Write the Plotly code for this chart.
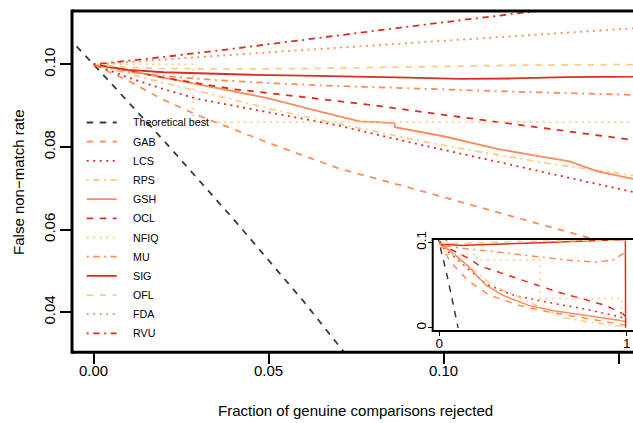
import plotly.graph_objects as go

# ---------------- data ----------------
names = ["Theoretical best", "GAB", "LCS", "RPS", "GSH", "OCL", "NFIQ", "MU", "SIG", "OFL", "FDA", "RVU"]

theo_x = [-0.01, 0.0, 0.02, 0.04, 0.06, 0.08, 0.10]
theo_y = [0.1089, 0.1, 0.0816, 0.0625, 0.0426, 0.0217, 0.0]

gab_x = [0, 0.01, 0.02, 0.03, 0.05, 0.07, 0.09, 0.11, 0.13, 0.155, 0.27, 0.43, 0.6, 0.8, 0.97, 1.0]
gab_y = [0.1, 0.0960, 0.0914, 0.0876, 0.0810, 0.0748, 0.0702, 0.0655, 0.0607, 0.0548, 0.038, 0.026, 0.018, 0.010, 0.004, 0.003]

lcs_x = [0, 0.01, 0.02, 0.03, 0.05, 0.07, 0.09, 0.11, 0.13, 0.155, 0.25, 0.4, 0.6, 0.8, 0.96, 1.0]
lcs_y = [0.1, 0.0968, 0.0940, 0.0916, 0.0884, 0.0852, 0.0812, 0.0773, 0.0735, 0.0685, 0.051, 0.038, 0.029, 0.021, 0.013, 0.010]

rps_x = [0, 0.01, 0.02, 0.035, 0.05, 0.065, 0.08, 0.095, 0.11, 0.13, 0.155, 0.25, 0.31, 0.41, 0.5, 0.66, 0.82, 0.98, 1.0]
rps_y = [0.1, 0.0978, 0.0955, 0.0925, 0.0893, 0.0865, 0.0838, 0.0812, 0.0789, 0.0760, 0.0730, 0.056, 0.047, 0.0376, 0.028, 0.012, 0.006, 0.002, 0.001]

gsh_x = [0, 0.01, 0.02, 0.035, 0.05, 0.065, 0.076, 0.086, 0.0861, 0.10, 0.115, 0.125, 0.136, 0.144, 0.155,
         0.2, 0.25, 0.34, 0.48, 0.61, 0.79, 0.96, 1.0]
gsh_y = [0.1, 0.0985, 0.0968, 0.0943, 0.0918, 0.0885, 0.0862, 0.0858, 0.0848, 0.0826, 0.0796, 0.0781, 0.0765, 0.0741, 0.0721,
         0.061, 0.050, 0.038, 0.026, 0.020, 0.0146, 0.009, 0.007]

ocl_x = [0, 0.01, 0.02, 0.04, 0.06, 0.08, 0.10, 0.12, 0.14, 0.155, 0.22, 0.3, 0.38, 0.5, 0.64, 0.77, 0.89, 0.98, 1.0]
ocl_y = [0.1, 0.0985, 0.0968, 0.0940, 0.0921, 0.0901, 0.0878, 0.0855, 0.0832, 0.0816, 0.072, 0.0665, 0.0605, 0.051, 0.0414, 0.0337, 0.026, 0.0164, 0.012]

nfiq_x = [0, 0.0285, 0.2, 0.537, 0.974, 1.0]
nfiq_y = [0.1, 0.086, 0.0797, 0.0345, 0.004, 0.0]

mu_x = [0, 0.01, 0.02, 0.035, 0.05, 0.065, 0.08, 0.10, 0.12, 0.155, 0.3, 0.5, 0.7, 0.85, 0.93, 0.99, 1.0]
mu_y = [0.1, 0.0982, 0.0972, 0.0962, 0.0955, 0.0949, 0.0945, 0.0939, 0.0934, 0.0926, 0.089, 0.084, 0.079, 0.077, 0.080, 0.088, 0.088]

sig_x = [0, 0.005, 0.01, 0.02, 0.03, 0.045, 0.06, 0.075, 0.09, 0.105, 0.12, 0.135, 0.155, 0.3, 0.5, 0.7, 0.9, 0.993, 0.994]
sig_y = [0.1, 0.0993, 0.0987, 0.0981, 0.0978, 0.0975, 0.0973, 0.0971, 0.0968, 0.0965, 0.0966, 0.0969, 0.0971, 0.098, 0.0995, 0.101, 0.1025, 0.1035, 0.0]

ofl_x = [0, 0.01, 0.02, 0.04, 0.06, 0.08, 0.10, 0.12, 0.14, 0.155, 0.3, 0.5, 0.7, 0.9, 1.0]
ofl_y = [0.1, 0.0993, 0.0990, 0.0989, 0.0990, 0.0992, 0.0995, 0.0998, 0.1001, 0.1002, 0.101, 0.1015, 0.102, 0.1025, 0.103]

fda_x = [0, 0.02, 0.04, 0.06, 0.08, 0.10, 0.12, 0.14, 0.155, 0.3, 0.6, 1.0]
fda_y = [0.1, 0.1012, 0.1024, 0.1035, 0.1046, 0.1057, 0.1068, 0.1080, 0.1088, 0.114, 0.118, 0.12]

rvu_x = [0, 0.02, 0.04, 0.06, 0.08, 0.10, 0.12, 0.14, 0.3, 0.6, 1.0]
rvu_y = [0.1, 0.1018, 0.1038, 0.1060, 0.1081, 0.1102, 0.1122, 0.1143, 0.125, 0.13, 0.135]

x_ticks = [0.0, 0.05, 0.10, 0.15]
x_ticktext = ["0.00", "0.05", "0.10", "0.15"]
y_ticks = [0.04, 0.06, 0.08, 0.10]
y_ticktext = ["0.04", "0.06", "0.08", "0.10"]
inset_x_ticks = [0, 1]
inset_x_ticktext = ["0", "1"]
inset_y_ticks = [0, 0.1]
inset_y_ticktext = ["0", "0.1"]

# ---------------- styles ----------------
RED, ORANGE, LIGHT, GREY = "#D7301F", "#FC8D59", "#FDCC8A", "#3a3a3a"
DASH = "6.5px,6.5px"
DOT = "2px,4.5px"
DOTDASH = "2px,4.5px,6.5px,4.5px"
SOLID = "solid"

series = [
    (names[0], theo_x, theo_y, GREY, DASH, "linear"),
    (names[1], gab_x, gab_y, ORANGE, DASH, "linear"),
    (names[2], lcs_x, lcs_y, RED, DOT, "linear"),
    (names[3], rps_x, rps_y, LIGHT, DOTDASH, "linear"),
    (names[4], gsh_x, gsh_y, ORANGE, SOLID, "linear"),
    (names[5], ocl_x, ocl_y, RED, DASH, "linear"),
    (names[6], nfiq_x, nfiq_y, LIGHT, DOT, "hv"),
    (names[7], mu_x, mu_y, ORANGE, DOTDASH, "linear"),
    (names[8], sig_x, sig_y, RED, SOLID, "linear"),
    (names[9], ofl_x, ofl_y, LIGHT, DASH, "linear"),
    (names[10], fda_x, fda_y, ORANGE, DOT, "linear"),
    (names[11], rvu_x, rvu_y, RED, DOTDASH, "linear"),
]

W, H = 633, 423
def px(p):
    return p / W
def py(p):
    return 1 - p / H

FONT = "Liberation Sans, Arial, Helvetica, sans-serif"

fig = go.Figure()
for name, xs, ys, col, dash, shape in series:
    fig.add_trace(go.Scatter(x=xs, y=ys, mode="lines", name=name, xaxis="x", yaxis="y",
                             line=dict(color=col, width=1.8, dash=dash, shape=shape),
                             showlegend=False, hoverinfo="skip"))
for name, xs, ys, col, dash, shape in series:
    fig.add_trace(go.Scatter(x=xs, y=ys, mode="lines", name=name, xaxis="x2", yaxis="y2",
                             line=dict(color=col, width=1.5, dash=dash, shape=shape),
                             showlegend=False, hoverinfo="skip"))

# main plot geometry (pixels)
L, T, B = 72, 3, 351
# inset geometry
IL, IT, IB = 432.7, 235.5, 329.3

shapes = []
# main box (right side lies outside the picture)
shapes += [
    dict(type="line", xref="paper", yref="paper", x0=px(L), x1=1.02, y0=py(T), y1=py(T), line=dict(color="black", width=3)),
    dict(type="line", xref="paper", yref="paper", x0=px(L), x1=1.02, y0=py(B), y1=py(B), line=dict(color="black", width=3)),
    dict(type="line", xref="paper", yref="paper", x0=px(L), x1=px(L), y0=py(T - 1.5), y1=py(B + 1.5), line=dict(color="black", width=3)),
]
# inset box
shapes += [
    dict(type="line", xref="paper", yref="paper", x0=px(IL), x1=1.02, y0=py(IT), y1=py(IT), line=dict(color="black", width=2)),
    dict(type="line", xref="paper", yref="paper", x0=px(IL), x1=1.02, y0=py(IB), y1=py(IB), line=dict(color="black", width=2)),
    dict(type="line", xref="paper", yref="paper", x0=px(IL), x1=px(IL), y0=py(IT - 1), y1=py(IB + 1), line=dict(color="black", width=2)),
]

annotations = []
# legend (drawn manually to match the base-R legend layout)
row0, rowgap = 116.7, 19.54
for i, (name, xs, ys, col, dash, shape) in enumerate(series):
    yy = row0 + i * rowgap
    shapes.append(dict(type="line", xref="paper", yref="paper", x0=px(86.7), x1=px(116.7), y0=py(yy), y1=py(yy),
                       line=dict(color=col, width=1.8, dash=dash)))
    annotations.append(dict(text=name, xref="paper", yref="paper", x=px(131), y=py(yy), xanchor="left",
                            yanchor="middle", showarrow=False, font=dict(family=FONT, size=10.7, color="black")))

annotations.append(dict(text="Fraction of genuine comparisons rejected", xref="paper", yref="paper",
                        x=px(355.8), y=py(410), xanchor="center", yanchor="middle", showarrow=False,
                        font=dict(family=FONT, size=15, color="black")))
annotations.append(dict(text="False non\u2212match rate", xref="paper", yref="paper",
                        x=px(18.3), y=py(177), xanchor="center", yanchor="middle", textangle=-90, showarrow=False,
                        font=dict(family=FONT, size=15, color="black")))

# ranges derived from pixel calibration
x_per_px = 0.05 / 175.0
y_per_px = 0.06 / 252.5
x0_px, y10_px = 93.6, 57.5
xr = [(L - x0_px) * x_per_px, (W - x0_px) * x_per_px]
yr = [0.10 - (B - y10_px) * y_per_px, 0.10 + (y10_px - T) * y_per_px]

ix_per_px = 1 / 187.4
iy_per_px = 0.1 / 87.0
ixr = [(IL - 439.3) * ix_per_px, (W - 439.3) * ix_per_px]
iyr = [-(IB - 326.0) * iy_per_px, (326.0 - IT) * iy_per_px]

fig.update_layout(
    width=W, height=H, margin=dict(l=0, r=0, t=0, b=0),
    paper_bgcolor="white", plot_bgcolor="white", showlegend=False,
    font=dict(family=FONT, color="black"),
    xaxis=dict(domain=[px(L), 1], range=xr, tickvals=x_ticks, ticktext=x_ticktext, ticks="outside",
               ticklen=11, tickwidth=1.5, tickcolor="black", showgrid=False, zeroline=False, showline=False,
               tickfont=dict(size=15), ticklabelstandoff=-6, anchor="y"),
    yaxis=dict(domain=[py(B), py(T)], range=yr, tickvals=y_ticks, ticktext=y_ticktext, ticks="outside",
               ticklen=11, tickwidth=1.5, tickcolor="black", showgrid=False, zeroline=False, showline=False,
               tickangle=-90, tickfont=dict(size=15), ticklabelstandoff=-1, anchor="x"),
    xaxis2=dict(domain=[px(IL), 1], range=ixr, tickvals=inset_x_ticks, ticktext=inset_x_ticktext, ticks="outside",
                ticklen=4, tickwidth=1.2, tickcolor="black", showgrid=False, zeroline=False, showline=False,
                tickfont=dict(size=13.5), ticklabelstandoff=-4, anchor="y2"),
    yaxis2=dict(domain=[py(IB), py(IT)], range=iyr, tickvals=inset_y_ticks, ticktext=inset_y_ticktext, ticks="outside",
                ticklen=4, tickwidth=1.2, tickcolor="black", showgrid=False, zeroline=False, showline=False,
                tickangle=-90, tickfont=dict(size=13.5), ticklabelstandoff=-4, anchor="x2"),
    shapes=shapes, annotations=annotations,
)

fig.write_html("out.html")
